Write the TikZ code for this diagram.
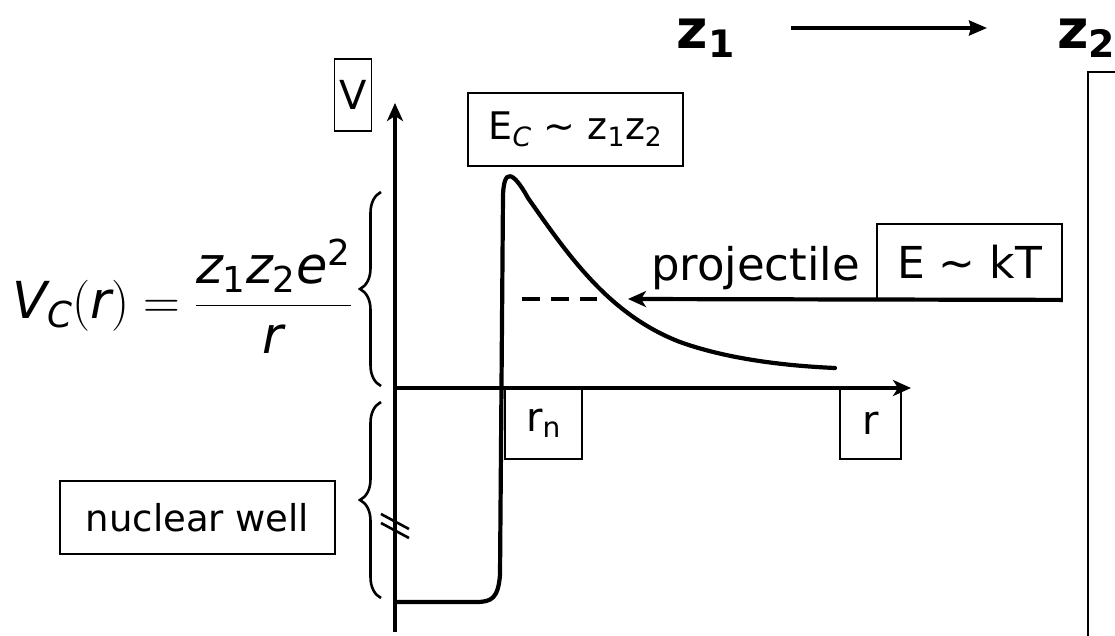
\RequirePackage{fix-cm}
\documentclass[tikz,border=0pt]{standalone}
\usepackage{amsmath}
\usepackage{fontspec}
\setmainfont{DejaVu Sans}
\usetikzlibrary{arrows.meta,positioning,decorations.pathreplacing}
\newcommand{\vi}[1]{\textit{#1}}
\newcommand{\fsz}[1]{\fontsize{#1}{#1}\selectfont}

\begin{document}
\begin{tikzpicture}[
    x=1pt, y=-1pt,
    lbl/.style={rectangle, draw, line width=1.8pt, inner sep=0pt, align=center, font=\fsz{40}},
    axis/.style={line width=4.2pt, -{Stealth[length=18pt, width=16pt, inset=5pt]}},
    curve/.style={line width=4.2pt, line join=round, line cap=round},
    brace/.style={decorate, decoration={brace, amplitude=21pt}, line width=2.6pt},
    toparrow/.style={line width=3.5pt, -{Stealth[length=18pt, width=15pt, inset=2pt]}}
  ]
  \useasboundingbox (0,0) rectangle (1115,635);
  \clip (0,0) rectangle (1115,635);

  % axes
  \coordinate (origin) at (394,388);
  \coordinate (vtop) at (395,103);
  \coordinate (vbot) at (395,632);
  \coordinate (rend) at (911,388);
  \draw[axis] (vbot) -- (vtop);
  \draw[axis] (origin) -- (rend);

  % labels
  \node[lbl, minimum width=37pt, minimum height=72pt] (vlabel) at (353,95) {V};
  \node[lbl, minimum width=215pt, minimum height=73pt, font=\fsz{38}] (eclabel) at (575.5,129.5) {E\textsubscript{\vi{C}} \textasciitilde{} z\textsubscript{1}z\textsubscript{2}};
  \node[lbl, minimum width=185pt, minimum height=75pt, font=\fsz{44}] (ekt) at (969.5,261.5) {E \textasciitilde{} kT};
  \node[font=\fsz{45}, inner sep=0pt, left=16pt of ekt, yshift=-7pt] (projectile) {projectile};
  \node[lbl, minimum width=77pt, minimum height=71pt] (rnlabel) at (543.5,423.5) {r\textsubscript{n}};
  \node[lbl, minimum width=61pt, minimum height=71pt] (rlabel) at (870.5,423.5) {r};
  \node[lbl, minimum width=275pt, minimum height=73pt, font=\fsz{37}] (wellbox) at (197.5,517.5) {nuclear well};
  \node[anchor=east, inner sep=0pt, font=\fsz{51}] (formula) at (352,296)
    {$\vi{V}_{\vi{C}}(\vi{r})=\dfrac{\vi{z}_{\text{1}}\vi{z}_{\text{2}}\vi{e}^{\text{2}}}{\vi{r}}$};

  % z1 -> z2
  \node[font=\bfseries\fsz{54}, inner sep=0pt] (zone) at (706,38) {z\textsubscript{1}};
  \node[font=\bfseries\fsz{54}, inner sep=0pt, anchor=west] (ztwo) at (1057,38) {z\textsubscript{2}};
  \draw[toparrow, shorten <=56pt, shorten >=70pt] ([yshift=10pt]zone.east) -- ([yshift=10pt]ztwo.west);
  \draw[line width=1.8pt] (1088,72) rectangle (1140,680);

  % potential
  \draw[curve] (395,602) -- (476,602) .. controls (492,602) and (498,598) .. (500,575)
    -- (503,195) .. controls (504,168) and (513,171) .. (528,198)
    .. controls (570,258) and (610,315) .. (680,342)
    .. controls (730,360) and (790,366) .. (835,368);
  \draw[line width=3.5pt, dash pattern=on 18pt off 11pt] (522,299) -- (597,299);
  \coordinate (hit) at (628,299);
  \draw[axis] (ekt.south east) -- (hit);

  % braces
  \draw[brace] (381,386) -- (381,192);
  \draw[brace] (381,598) -- (381,402);
  \draw[line width=2.6pt] (381,514) -- (409,529);
  \draw[line width=2.6pt] (381,523) -- (409,538);
\end{tikzpicture}
\end{document}
